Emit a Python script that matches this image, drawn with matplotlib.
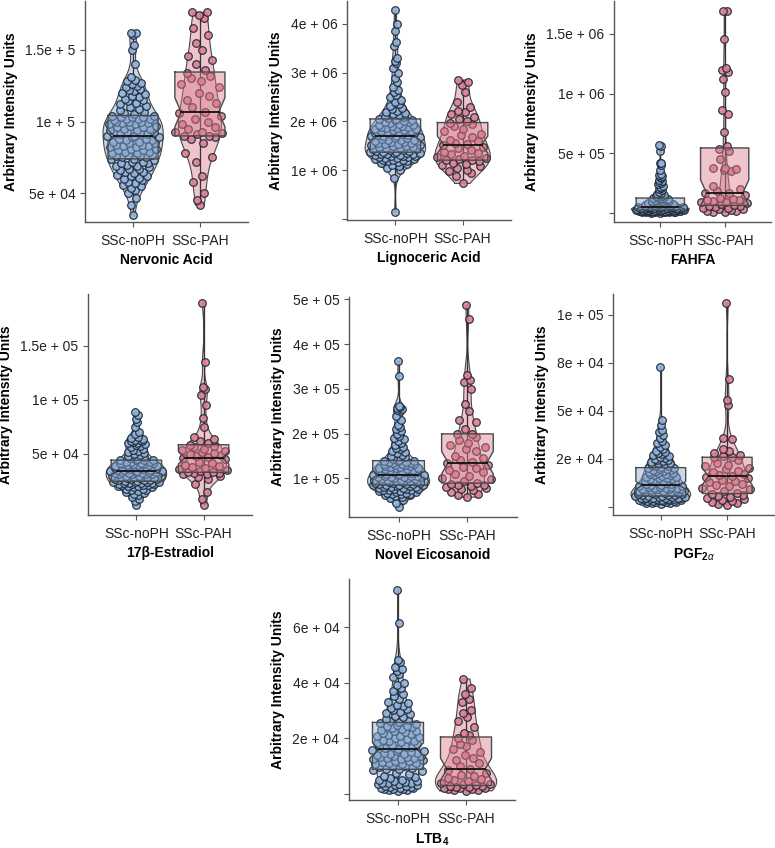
import matplotlib.pyplot as plt
import numpy as np

plt.rcParams["font.family"] = ["Liberation Sans", "DejaVu Sans"]
plt.rcParams["mathtext.fontset"] = "custom"
plt.rcParams["mathtext.rm"] = "Liberation Sans"
plt.rcParams["mathtext.bf"] = "Liberation Sans:bold"
plt.rcParams["mathtext.it"] = "Liberation Sans:italic"

groups = ["SSc-noPH", "SSc-PAH"]

# Nervonic acid, values in 1e3
nervonic_noph = [35, 42, 47, 50, 52, 54, 55, 56, 57, 58, 59, 60, 61, 62, 62, 63, 64, 65, 65, 66, 67, 67, 68, 69, 69, 70, 71, 71, 72, 72, 73, 74,
                 74, 75, 75, 76, 76, 77, 77, 78, 78, 79, 79, 80, 80, 81, 81, 82, 82, 83, 83, 84, 84, 85, 85, 86, 86, 87, 87, 88, 88, 89, 89, 90,
                 90, 91, 91, 92, 92, 93, 93, 94, 94, 95, 95, 96, 96, 97, 97, 98, 98, 99, 99, 100, 100, 100, 101, 101, 102, 102, 102, 103, 103, 103, 104, 104,
                 105, 106, 107, 108, 109, 110, 111, 112, 113, 114, 115, 116, 117, 118, 119, 120, 121, 122, 123, 124, 125, 126, 127, 128, 129, 131, 140, 150, 153, 160, 162, 162]
nervonic_pah = [42, 45, 50, 58, 62, 72, 75, 78, 85, 88, 89, 90,
                90, 91, 92, 93, 93, 95, 96, 98, 100, 102, 104, 106,
                107, 110, 113, 115, 118, 120, 124, 126, 128, 130, 132, 134,
                136, 140, 143, 146, 150, 155, 160, 165, 172, 174, 176, 176]

# Lignoceric acid, values in 1e4
lignoceric_noph = [15, 85, 100, 105, 108, 110, 112, 114, 116, 118, 119, 120, 121, 122, 123, 124, 125, 126, 127, 128, 129, 130, 130, 131, 132, 133, 133, 134, 135, 135, 136, 137,
                   137, 138, 139, 140, 141, 142, 143, 144, 145, 146, 147, 148, 149, 150, 151, 152, 153, 154, 155, 156, 157, 158, 159, 160, 161, 162, 163, 164, 166, 167, 168, 170,
                   170, 171, 172, 173, 174, 175, 176, 177, 178, 179, 180, 181, 182, 183, 184, 185, 186, 187, 188, 189, 190, 191, 192, 193, 195, 196, 198, 199, 200, 202, 203, 205,
                   206, 208, 210, 212, 214, 216, 218, 220, 222, 225, 228, 232, 236, 240, 245, 250, 255, 260, 265, 270, 280, 290, 300, 310, 320, 325, 330, 355, 362, 385, 400, 428]
lignoceric_pah = [73, 88, 95, 98, 100, 105, 108, 110, 112, 115, 118, 120,
                  121, 123, 125, 128, 130, 133, 135, 138, 142, 145, 148, 152,
                  153, 156, 160, 163, 168, 172, 175, 180, 185, 190, 195, 197,
                  200, 205, 210, 215, 220, 222, 230, 240, 260, 275, 280, 285]

# FAHFA, values in 1e3
fahfa_noph = [3, 4, 5, 6, 7, 8, 9, 10, 10, 11, 12, 13, 13, 14, 15, 15, 16, 17, 17, 18, 19, 19, 20, 20, 21, 21, 22, 22, 23, 23, 24, 25,
              25, 26, 27, 27, 28, 29, 30, 31, 31, 32, 33, 34, 35, 35, 36, 37, 38, 39, 40, 40, 41, 42, 43, 44, 45, 45, 46, 47, 48, 48, 49, 50,
              51, 53, 55, 57, 59, 61, 63, 65, 67, 69, 71, 73, 75, 77, 79, 81, 83, 85, 88, 90, 93, 95, 98, 100, 103, 106, 109, 112, 115, 118, 121, 125,
              128, 132, 136, 140, 145, 150, 155, 160, 170, 180, 190, 200, 210, 220, 230, 240, 250, 260, 270, 280, 290, 300, 310, 320, 330, 360, 400, 415, 420, 520, 560, 567]
fahfa_pah = [5, 10, 15, 20, 25, 30, 35, 40, 45, 50, 55, 60,
             65, 75, 85, 90, 95, 100, 105, 110, 120, 130, 150, 165,
             170, 185, 200, 230, 350, 360, 370, 375, 380, 450, 520, 540,
             560, 680, 830, 860, 1010, 1120, 1180, 1200, 1210, 1460, 1690, 1695]

# 17beta-estradiol, values in 1e3
estradiol_noph = [3, 6, 8, 10, 12, 13, 14, 15, 16, 17, 17, 18, 18, 19, 19, 20, 20, 20, 21, 21, 21, 22, 22, 22, 23, 23, 23, 23, 24, 24, 24, 24,
                  25, 25, 26, 26, 26, 27, 27, 27, 28, 28, 28, 29, 29, 29, 30, 30, 30, 30, 31, 31, 31, 31, 32, 32, 32, 32, 33, 33, 33, 33, 34, 34,
                  34, 35, 35, 35, 36, 36, 36, 37, 37, 37, 38, 38, 38, 39, 39, 39, 40, 40, 40, 41, 41, 41, 42, 42, 42, 43, 43, 43, 44, 44, 44, 44,
                  45, 46, 47, 48, 49, 50, 51, 52, 53, 54, 55, 56, 57, 58, 59, 60, 60, 61, 62, 62, 63, 63, 64, 65, 66, 68, 70, 75, 80, 82, 86, 89]
estradiol_pah = [3, 8, 15, 22, 27, 29, 30, 31, 31, 32, 32, 33,
                 33, 34, 35, 36, 37, 38, 39, 40, 42, 43, 45, 46,
                 47, 48, 49, 50, 51, 52, 53, 54, 55, 56, 57, 58,
                 60, 62, 64, 66, 75, 83, 95, 105, 110, 112, 135, 190]

# Novel eicosanoid, values in 1e3
eicosanoid_noph = [37, 45, 52, 56, 58, 60, 62, 63, 64, 65, 66, 67, 68, 69, 70, 71, 72, 73, 74, 75, 76, 76, 77, 78, 79, 80, 81, 81, 82, 83, 84, 85,
                   85, 86, 87, 87, 88, 89, 89, 90, 91, 91, 92, 93, 94, 94, 95, 96, 97, 97, 98, 99, 100, 101, 102, 102, 103, 104, 105, 105, 106, 107, 107, 108,
                   109, 110, 111, 112, 113, 114, 115, 116, 117, 118, 119, 120, 121, 122, 123, 124, 125, 126, 127, 128, 129, 130, 131, 132, 133, 134, 135, 136, 137, 138, 138, 139,
                   141, 144, 147, 150, 153, 156, 159, 162, 165, 168, 171, 175, 179, 183, 187, 191, 195, 200, 205, 210, 215, 220, 230, 240, 250, 252, 255, 258, 260, 262, 328, 362]
eicosanoid_pah = [58, 62, 66, 70, 73, 76, 78, 80, 82, 84, 85, 87,
                  90, 95, 98, 100, 105, 110, 115, 118, 122, 126, 130, 134,
                  136, 140, 145, 150, 160, 165, 170, 175, 180, 185, 192, 199,
                  200, 210, 225, 230, 250, 265, 300, 315, 320, 330, 455, 487]

# PGF2alpha, values in 1e2
pgf_noph = [15, 18, 20, 22, 24, 25, 26, 28, 29, 30, 31, 32, 33, 34, 35, 36, 37, 38, 39, 40, 41, 42, 43, 44, 45, 46, 47, 48, 50, 51, 53, 55,
            56, 58, 60, 61, 63, 65, 66, 68, 70, 71, 73, 75, 76, 78, 80, 81, 83, 85, 86, 88, 90, 91, 93, 95, 96, 98, 100, 101, 103, 105, 107, 110,
            112, 115, 118, 121, 124, 127, 130, 133, 136, 139, 142, 145, 148, 151, 154, 157, 160, 163, 166, 169, 172, 175, 178, 181, 184, 187, 190, 193, 196, 199, 201, 203,
            206, 210, 214, 218, 222, 226, 230, 234, 238, 242, 246, 250, 255, 260, 265, 270, 275, 280, 285, 290, 300, 310, 320, 330, 345, 360, 375, 390, 400, 425, 450, 730]
pgf_pah = [10, 15, 20, 25, 30, 35, 40, 45, 50, 55, 60, 66,
           70, 80, 90, 100, 110, 115, 120, 130, 135, 140, 150, 156,
           160, 165, 170, 180, 185, 195, 200, 210, 220, 230, 245, 257,
           260, 265, 270, 280, 290, 300, 355, 360, 530, 555, 665, 1060]

# LTB4, values in 1e2
ltb4_noph = [10, 12, 14, 15, 17, 18, 20, 21, 22, 24, 25, 27, 28, 30, 32, 33, 35, 37, 38, 40, 42, 44, 46, 48, 50, 55, 60, 65, 70, 75, 80, 86,
             88, 90, 93, 95, 98, 100, 102, 105, 107, 110, 112, 115, 117, 119, 121, 123, 125, 127, 129, 131, 133, 135, 137, 139, 141, 143, 145, 147, 150, 152, 155, 158,
             161, 164, 167, 170, 173, 176, 179, 182, 185, 188, 191, 194, 197, 200, 203, 206, 209, 212, 215, 218, 221, 224, 227, 230, 233, 236, 239, 242, 245, 248, 252, 256,
             258, 262, 266, 270, 275, 280, 285, 290, 295, 300, 305, 310, 315, 320, 325, 330, 340, 350, 360, 370, 380, 390, 400, 420, 430, 440, 450, 455, 475, 480, 615, 735]
ltb4_pah = [10, 12, 14, 16, 18, 20, 21, 22, 24, 25, 27, 28,
            30, 33, 36, 40, 44, 48, 52, 57, 62, 68, 75, 86,
            90, 100, 110, 120, 130, 140, 150, 160, 170, 180, 192, 202,
            210, 220, 240, 260, 275, 290, 300, 330, 340, 360, 380, 413]

violin_colors = ["#8aa7cf", "#dc7d8c"]
point_colors = ["#93b3da", "#e0808f"]
edge = "#4a4a4a"


def kde(v, grid):
    n = len(v)
    q1, q3 = np.percentile(v, [25, 75])
    bw = 0.9 * min(np.std(v, ddof=1), (q3 - q1) / 1.34) * n ** -0.2
    z = (grid[:, None] - v[None, :]) / bw
    return np.exp(-0.5 * z ** 2).sum(axis=1) / (n * bw * np.sqrt(2 * np.pi))


def van_der_corput(n):
    # quasi-random offsets in [0, 1), same idea as ggbeeswarm's quasirandom
    out = np.zeros(n)
    for k in range(n):
        x, denom, i = 0.0, 1.0, k + 1
        while i:
            denom *= 2
            x += (i % 2) / denom
            i //= 2
        out[k] = x
    return out


def draw_panel(ax, noph, pah, unit, title, ylim, yticks, ylabels):
    data = [np.array(noph, float) * unit, np.array(pah, float) * unit]
    dens = []
    for v in data:
        grid = np.linspace(v.min(), v.max(), 512)
        dens.append((grid, kde(v, grid)))
    dmax = max(d.max() for _, d in dens)
    for i, v in enumerate(data):
        grid, d = dens[i]
        col = violin_colors[i]
        hw = 0.45 * d / dmax
        # violin
        ax.fill_betweenx(grid, i - hw, i + hw, facecolor=col, alpha=0.45, edgecolor="none", zorder=1)
        ax.plot(np.r_[i - hw, (i + hw)[::-1], i - hw[0]], np.r_[grid, grid[::-1], grid[0]],
                color=edge, lw=0.8, zorder=2)
        ax.plot([i, i], [v.min(), v.max()], color="#333333", lw=0.9, zorder=2)
        # quasirandom points, spread by the group's own density
        u = van_der_corput(len(v)) * 2 - 1
        own = np.interp(v, grid, d / d.max())
        ax.scatter(i + u * own * 0.4, v, s=30, facecolor=point_colors[i], edgecolor="#1c2838",
                   lw=0.9, alpha=0.9, zorder=3)
        # notched box
        q1, med, q3 = np.percentile(v, [25, 50, 75])
        notch = 1.58 * (q3 - q1) / np.sqrt(len(v))
        bw = 0.375
        nw = bw * 0.75
        xs = [i - bw, i + bw, i + bw, i + nw, i + bw, i + bw, i - bw, i - bw, i - nw, i - bw, i - bw]
        ys = [q3, q3, med + notch, med, med - notch, q1, q1, med - notch, med, med + notch, q3]
        ax.fill(xs, ys, facecolor=col, alpha=0.45, edgecolor="none", zorder=4)
        ax.plot(xs, ys, color=edge, lw=1.0, zorder=5)
        ax.plot([i - nw, i + nw], [med, med], color="#111111", lw=1.3, zorder=5)

    ax.set_xlim(-0.72, 1.72)
    ax.set_ylim(*ylim)
    ax.set_xticks([0, 1])
    ax.set_xticklabels(groups, fontsize=10, color="#222222")
    ax.set_yticks(yticks)
    ax.set_yticklabels(ylabels, fontsize=10, color="#222222")
    ax.set_xlabel(title, fontsize=10, fontweight="bold", labelpad=4)
    ax.set_ylabel("Arbitrary Intensity Units", fontsize=10, fontweight="bold", labelpad=5)
    for s in ["top", "right"]:
        ax.spines[s].set_visible(False)
    for s in ["left", "bottom"]:
        ax.spines[s].set_color("#555555")
        ax.spines[s].set_linewidth(1.0)
    ax.tick_params(axis="both", length=3.5, width=0.8, color="#555555")
    ax.tick_params(axis="x", pad=5)


W, H = 775, 848
fig = plt.figure(figsize=(W / 100, H / 100), dpi=100)


def add_axes(x0, x1, y0, y1):
    return fig.add_axes([x0 / W, 1 - y1 / H, (x1 - x0) / W, (y1 - y0) / H])


draw_panel(add_axes(85, 248, 1, 222), nervonic_noph, nervonic_pah, 1e3, "Nervonic Acid",
           (30e3, 184e3), [5e4, 1e5, 1.5e5], ["5e + 04", "1e + 5", "1.5e + 5"])
draw_panel(add_axes(347, 511, 1, 220), lignoceric_noph, lignoceric_pah, 1e4, "Lignoceric Acid",
           (-0.02e6, 4.47e6), [0, 1e6, 2e6, 3e6, 4e6], ["", "1e + 06", "2e + 06", "3e + 06", "4e + 06"])
draw_panel(add_axes(614, 771, 1, 222), fahfa_noph, fahfa_pah, 1e3, "FAHFA",
           (-75e3, 1.775e6), [0, 5e5, 1e6, 1.5e6], ["", "5e + 05", "1e + 06", "1.5e + 06"])
draw_panel(add_axes(88, 252, 294, 515), estradiol_noph, estradiol_pah, 1e3, "17β-Estradiol",
           (-6.5e3, 198e3), [5e4, 1e5, 1.5e5], ["5e + 04", "1e + 05", "1.5e + 05"])
draw_panel(add_axes(349, 517, 297, 517), eicosanoid_noph, eicosanoid_pah, 1e3, "Novel Eicosanoid",
           (13.6e3, 505e3), [1e5, 2e5, 3e5, 4e5, 5e5], ["1e + 05", "2e + 05", "3e + 05", "4e + 05", "5e + 05"])
draw_panel(add_axes(613, 775, 294, 515), pgf_noph, pgf_pah, 1e2, r"PGF$_{\mathbf{2}\alpha}$",
           (-4.3e3, 110.8e3), [0, 2.5e4, 5e4, 7.5e4, 1e5], ["", "2e + 04", "5e + 04", "8e + 04", "1e + 05"])
draw_panel(add_axes(349, 515, 579, 800), ltb4_noph, ltb4_pah, 1e2, r"LTB$_\mathbf{4}$",
           (-2.3e3, 77.3e3), [0, 2e4, 4e4, 6e4], ["", "2e + 04", "4e + 04", "6e + 04"])

fig.savefig("out.png", dpi=100)
